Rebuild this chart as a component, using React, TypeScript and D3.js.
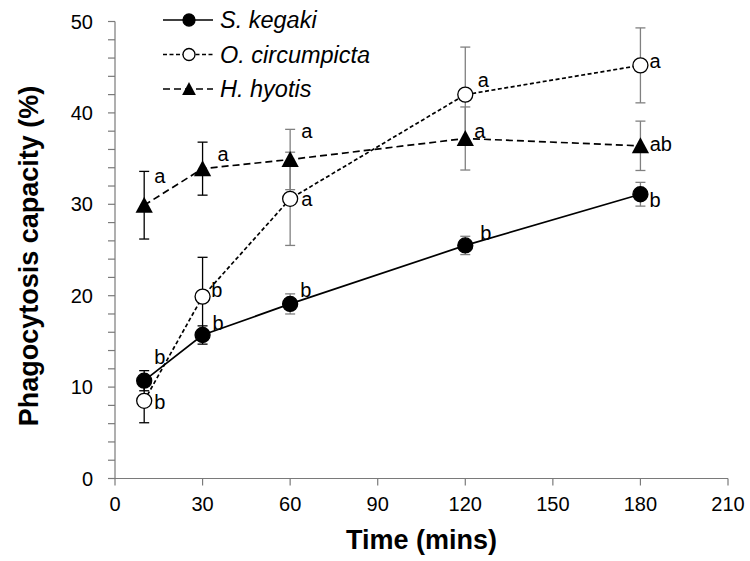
import React from "react";
import * as d3 from "d3";

// Sampling times (minutes)
const times = [10, 30, 60, 120, 180];

// Phagocytosis capacity (%) per species, with standard errors
const kegakiMean = [10.7, 15.7, 19.1, 25.5, 31.1];
const kegakiErr = [1.1, 1.0, 1.1, 1.0, 1.3];
const circumMean = [8.5, 19.9, 30.6, 42.0, 45.2];
const circumErr = [2.4, 4.3, 5.1, 5.2, 4.1];
const hyotisMean = [29.9, 33.9, 34.9, 37.2, 36.4];
const hyotisErr = [3.7, 2.9, 3.3, 3.45, 2.7];

// Significance letters
const kegakiLetters = ["b", "b", "b", "b", "b"];
const circumLetters = ["b", "b", "a", "a", "a"];
const hyotisLetters = ["a", "a", "a", "a", "ab"];

const seriesNames = ["S. kegaki", "O. circumpicta", "H. hyotis"];

const xTicks = [0, 30, 60, 90, 120, 150, 180, 210];
const yTicks = [0, 10, 20, 30, 40, 50];

// Letter placement relative to each marker (text start, baseline)
const kegakiLabelOffset = [[10, -17], [10, -5], [10, -7], [15, -5.5], [9, 13]];
const circumLabelOffset = [[10, 8], [8.6, 0], [11, 7.6], [12.5, -8], [9, 2.5]];
const hyotisLabelOffset = [[10, -22], [15, -8], [11, -21.6], [9, -0.6], [9.3, 5]];

// Error bar colour per sampling time
const errColors = ["#000", "#000", "#808080", "#808080", "#808080"];

const FONT = "'Liberation Sans', Arial, sans-serif";

type Series = {
  name: string;
  mean: number[];
  err: number[];
  letters: string[];
  offsets: number[][];
  marker: "filled" | "open" | "triangle";
  dash?: string;
};

const series: Series[] = [
  { name: seriesNames[0], mean: kegakiMean, err: kegakiErr, letters: kegakiLetters, offsets: kegakiLabelOffset, marker: "filled" },
  { name: seriesNames[1], mean: circumMean, err: circumErr, letters: circumLetters, offsets: circumLabelOffset, marker: "open", dash: "4,2.5" },
  { name: seriesNames[2], mean: hyotisMean, err: hyotisErr, letters: hyotisLetters, offsets: hyotisLabelOffset, marker: "triangle", dash: "7,4" },
];

function Marker({ kind, x, y, s }: { kind: string; x: number; y: number; s: number }) {
  if (kind === "triangle") {
    const w = s * 1.15;
    const h = s * 1.0;
    return (
      <path
        d={`M${x},${y - h / 2 - 1}L${x + w / 2},${y + h / 2}L${x - w / 2},${y + h / 2}Z`}
        fill="#000"
      />
    );
  }
  return (
    <circle
      cx={x}
      cy={y}
      r={s / 2}
      fill={kind === "open" ? "#fff" : "#000"}
      stroke="#000"
      strokeWidth={1.3}
    />
  );
}

export default function App() {
  const width = 750;
  const height = 561;
  const x = d3.scaleLinear().domain([0, 210]).range([115, 728]);
  const y = d3.scaleLinear().domain([0, 50]).range([478.5, 21.5]);
  const minorY = d3.range(0, 51, 2);
  const axisColor = "#7a7a7a";

  const line = (vals: number[]) =>
    d3
      .line<number>()
      .x((_, i) => x(times[i]))
      .y((v) => y(v))(vals) as string;

  return (
    <svg
      width={width}
      height={height}
      style={{ position: "absolute", left: 0, top: 0, background: "#fff" }}
      fontFamily={FONT}
    >
      {/* Axes */}
      <line x1={x(0)} x2={x(0)} y1={y(0)} y2={y(50)} stroke={axisColor} strokeWidth={1.2} />
      <line x1={x(0)} x2={x(210)} y1={y(0)} y2={y(0)} stroke={axisColor} strokeWidth={1.2} />
      {minorY.map((t) => (
        <line key={"ym" + t} x1={x(0) - 7} x2={x(0)} y1={y(t)} y2={y(t)} stroke={axisColor} strokeWidth={1.2} />
      ))}
      {yTicks.map((t) => (
        <text key={"yt" + t} x={x(0) - 22} y={y(t) + 7} textAnchor="end" fontSize={20} fill="#000">
          {t}
        </text>
      ))}
      {xTicks.map((t) => (
        <g key={"xt" + t}>
          <line x1={x(t)} x2={x(t)} y1={y(0)} y2={y(0) + 7} stroke={axisColor} strokeWidth={1.2} />
          <text x={x(t)} y={y(0) + 32} textAnchor="middle" fontSize={20} fill="#000">
            {t}
          </text>
        </g>
      ))}
      <text
        x={(x(0) + x(210)) / 2}
        y={549}
        textAnchor="middle"
        fontSize={27}
        fontWeight="bold"
        fill="#000"
      >
        Time (mins)
      </text>
      <text
        transform={`translate(38,${(y(0) + y(50)) / 2 + 6}) rotate(-90)`}
        textAnchor="middle"
        fontSize={27}
        fontWeight="bold"
        fill="#000"
      >
        Phagocytosis capacity (%)
      </text>

      {/* Series lines */}
      {series.map((s) => (
        <path
          key={"l" + s.name}
          d={line(s.mean)}
          fill="none"
          stroke="#000"
          strokeWidth={1.7}
          strokeDasharray={s.dash}
        />
      ))}

      {/* Error bars */}
      {series.map((s) =>
        s.mean.map((m, i) => {
          const cx = x(times[i]);
          const top = y(m + s.err[i]);
          const bot = y(m - s.err[i]);
          const c = errColors[i];
          return (
            <g key={"e" + s.name + i} stroke={c} strokeWidth={1.3}>
              <line x1={cx} x2={cx} y1={top} y2={bot} />
              <line x1={cx - 5} x2={cx + 5} y1={top} y2={top} />
              <line x1={cx - 5} x2={cx + 5} y1={bot} y2={bot} />
            </g>
          );
        })
      )}

      {/* Markers */}
      {series.map((s) =>
        s.mean.map((m, i) => (
          <Marker key={"m" + s.name + i} kind={s.marker} x={x(times[i])} y={y(m)} s={15} />
        ))
      )}

      {/* Significance letters */}
      {series.map((s) =>
        s.letters.map((l, i) => (
          <text
            key={"t" + s.name + i}
            x={x(times[i]) + s.offsets[i][0]}
            y={y(s.mean[i]) + s.offsets[i][1]}
            fontSize={20}
            fill="#000"
          >
            {l}
          </text>
        ))
      )}

      {/* Legend */}
      {series.map((s, i) => {
        const ly = 20 + i * 34.5;
        return (
          <g key={"lg" + s.name}>
            <line x1={163} x2={213} y1={ly} y2={ly} stroke="#000" strokeWidth={1.7} strokeDasharray={s.dash} />
            <Marker kind={s.marker} x={189} y={ly} s={12} />
            <text x={220} y={ly + 8} fontSize={23.5} fontStyle="italic" fill="#000">
              {s.name}
            </text>
          </g>
        );
      })}
    </svg>
  );
}
